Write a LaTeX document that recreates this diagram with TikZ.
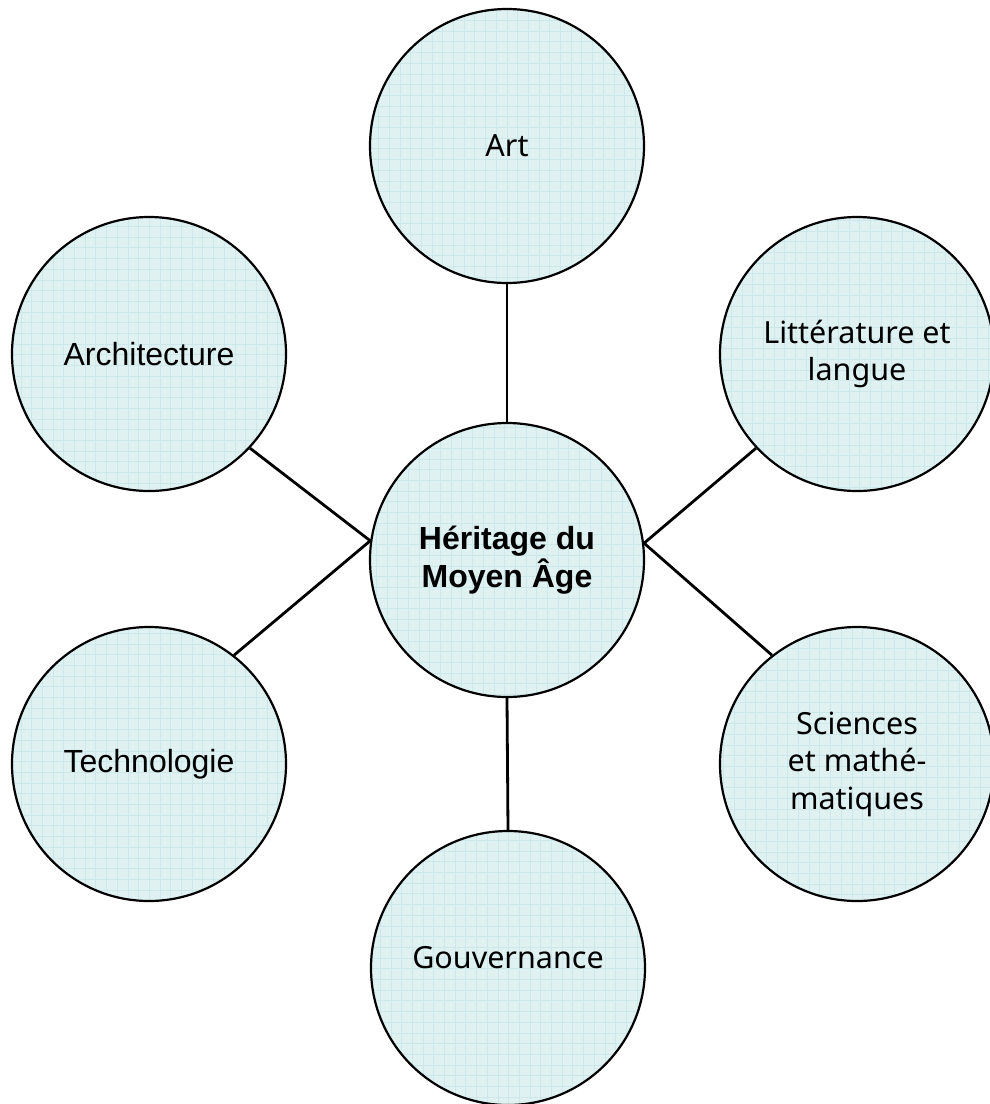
\documentclass[tikz,border=0pt]{standalone}
\usepackage{fontspec}
\setmainfont{Liberation Sans}
\newfontfamily\tahomalike{Noto Sans}
\definecolor{bubblefill}{RGB}{224,241,242}
\definecolor{bubblegrid}{RGB}{205,232,234}
\begin{document}
\begin{tikzpicture}[x=1pt,y=-1pt,
  bubble/.style={circle, draw=black, line width=2.2pt, fill=bubblefill,
    minimum size=274pt, inner sep=0pt, align=center,
    path picture={\draw[bubblegrid, line width=0.6pt, step=10.7pt]
      (path picture bounding box.south west) grid (path picture bounding box.north east);}},
  tah/.style={font=\tahomalike\fontsize{30.5}{37.5}\selectfont},
  ari/.style={font=\fontsize{32}{38}\selectfont},
  arib/.style={font=\bfseries\fontsize{32}{38}\selectfont},
  link/.style={line width=2.8pt, draw=black}]
\useasboundingbox (0,0) rectangle (990,1104);
\node[bubble,tah] (art) at (507,146) {\raisebox{-8pt}{Art}};
\node[bubble,ari] (arch) at (149,354) {Architecture};
\node[bubble,tah] (lit) at (857,354) {Littérature et\\langue};
\node[bubble,arib] (c) at (507,560) {Héritage du\\Moyen Âge};
\node[bubble,ari] (tech) at (149,764) {Technologie};
\node[bubble,tah] (sci) at (857,764) {Sciences\\et mathé-\\matiques};
\node[bubble,tah] (gov) at (508,968) {\raisebox{22pt}{Gouvernance}};
\draw[link] (art.south) -- (c.north);
\draw[link] (arch.-43.5) -- (c.172);
\draw[link] (tech.52.6) -- (c.172);
\draw[link] (lit.223.5) -- (c.7);
\draw[link] (sci.128.4) -- (c.7);
\draw[link] (c.south) -- (gov.north);
\end{tikzpicture}
\end{document}
